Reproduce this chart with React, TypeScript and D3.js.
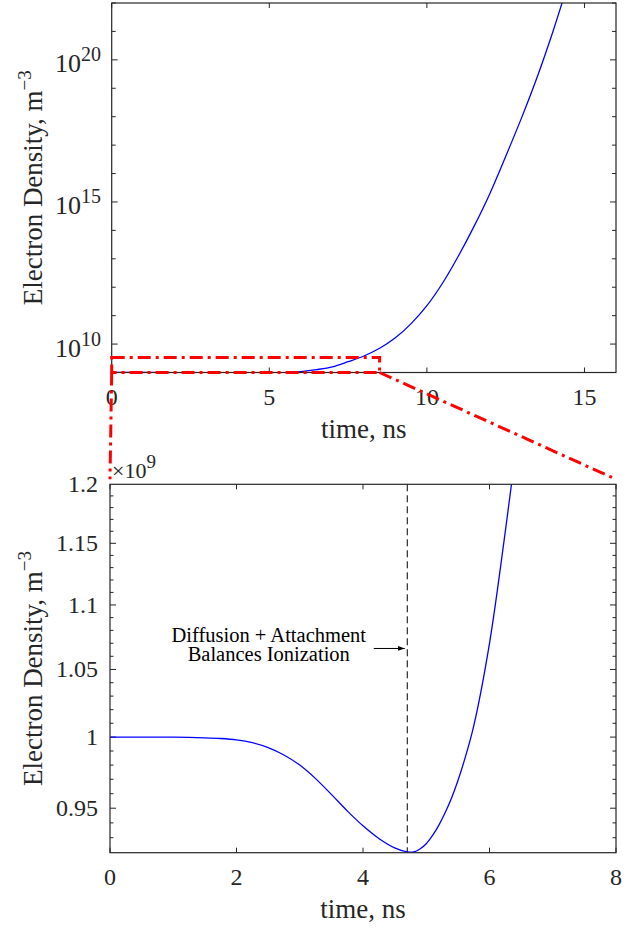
import React from 'react'
import * as d3 from 'd3'

// top panel: full run, log scale
const topTime = [0, 1, 2, 3, 4, 5, 5.5, 6, 6.5, 7, 7.5, 8, 8.5, 9, 9.5, 10, 10.5, 11, 11.5, 12, 12.5, 13, 13.5, 14, 14.4]
const topDensity = [1e9, 1e9, 0.998e9, 0.98e9, 0.938e9, 0.926e9, 0.969e9, 1.07e9, 1.26e9, 1.58e9, 2.4e9, 3.8e9, 7.1e9,
  1.66e10, 5.25e10, 2.24e11, 1.41e12, 1.26e13, 1.41e14, 2.0e15, 4.0e16, 8.9e17, 2.5e19, 1.0e21, 2.5e22]

// bottom panel: zoom on the first 8 ns
const botTime = [0, 0.5, 1, 1.5, 1.75, 2, 2.25, 2.5, 2.75, 3, 3.25, 3.5, 3.75, 4, 4.25, 4.5, 4.7, 4.8, 4.9, 5.0,
  5.1, 5.2, 5.3, 5.4, 5.5, 5.6, 5.75, 6.0, 6.25, 6.45]
const botDensity = [1.0, 1.0, 1.0, 0.9995, 0.999, 0.998, 0.996, 0.9925, 0.9872, 0.98, 0.9705, 0.9595, 0.9482, 0.938,
  0.9295, 0.9232, 0.9205, 0.9205, 0.9225, 0.926, 0.9315, 0.9385, 0.947, 0.957, 0.969, 0.983, 1.008, 1.07, 1.16, 1.245]

const topXTicks = [0, 5, 10, 15]
const topYLabelExp = [10, 15, 20]
const botXTicks = [0, 2, 4, 6, 8]
const botYTicks = [0.95, 1, 1.05, 1.1, 1.15, 1.2]

const balanceTime = 4.7
const zoomBox = {t0: 0, t1: 8.5, n0: 1e9, n1: 3.4e9}

const FONT = '"Liberation Serif", "Times New Roman", serif'
const AX = '#262626'

export default function App() {
  // panel geometry
  const top = {l: 111.7, r: 616, t: 3, b: 372.5}
  const bot = {l: 110, r: 616, t: 484.3, b: 852.7}

  const xTop = d3.scaleLinear().domain([0, 16]).range([top.l, top.r])
  const yTop = d3.scaleLog().domain([1e9, 1e22]).range([top.b, top.t])
  const xBot = d3.scaleLinear().domain([0, 8]).range([bot.l, bot.r])
  const yBot = d3.scaleLog().domain([0.92, 1.2]).range([bot.b, bot.t])

  const topLine = d3.line<number>()
    .x((d, i) => xTop(topTime[i]))
    .y(d => yTop(d))
    .curve(d3.curveCatmullRom.alpha(0.5))
  const botLine = d3.line<number>()
    .x((d, i) => xBot(botTime[i]))
    .y(d => yBot(d))
    .curve(d3.curveCatmullRom.alpha(0.5))

  const decades = d3.range(9, 23)
  const botMinor = d3.range(93, 120).map(v => v / 100)

  const arrowY = yBot(1.066)
  const redDash = '13,5,3,5'

  return (
    <svg width={632} height={931} style={{position: 'absolute', left: 0, top: 0, background: '#fff'}}
      fontFamily={FONT}>
      <defs>
        <clipPath id="clipTop"><rect x={top.l} y={top.t} width={top.r - top.l} height={top.b - top.t}/></clipPath>
        <clipPath id="clipBot"><rect x={bot.l} y={bot.t} width={bot.r - bot.l} height={bot.b - bot.t}/></clipPath>
        <marker id="arr" viewBox="0 0 10 10" refX="10" refY="5" markerWidth="7" markerHeight="7" orient="auto">
          <path d="M0,1.5 L10,5 L0,8.5 z" fill="#000"/>
        </marker>
      </defs>

      {/* ---------- top panel ---------- */}
      <g>
        {decades.map(e => {
          const y = yTop(Math.pow(10, e))
          const len = topYLabelExp.includes(e) ? 6 : 4
          return (
            <g key={'dt' + e} stroke={AX} strokeWidth={1}>
              <line x1={top.l} x2={top.l + len} y1={y} y2={y}/>
              <line x1={top.r} x2={top.r - len} y1={y} y2={y}/>
            </g>
          )
        })}
        {topXTicks.map(t => (
          <g key={'xt' + t} stroke={AX} strokeWidth={1}>
            <line x1={xTop(t)} x2={xTop(t)} y1={top.b} y2={top.b - 5}/>
            <line x1={xTop(t)} x2={xTop(t)} y1={top.t} y2={top.t + 5}/>
          </g>
        ))}
        <path d={topLine(topDensity) || ''} fill="none" stroke="#0000ff" strokeWidth={1.3} clipPath="url(#clipTop)"/>
        <rect x={top.l} y={top.t} width={top.r - top.l} height={top.b - top.t} fill="none" stroke={AX} strokeWidth={1.2}/>

        {topXTicks.map(t => (
          <text key={'xl' + t} x={xTop(t)} y={405} textAnchor="middle" fontSize={24} fill={AX}>{t}</text>
        ))}
        {topYLabelExp.map(e => (
          <text key={'yl' + e} x={101} y={yTop(Math.pow(10, e)) + 12.5} textAnchor="end" fontSize={26} fill={AX}>
            10<tspan dy={-11} fontSize={20}>{e}</tspan>
          </text>
        ))}
        <text x={(top.l + top.r) / 2} y={438} textAnchor="middle" fontSize={27} fill={AX}>time, ns</text>
        <text transform={`translate(42,${(top.t + top.b) / 2}) rotate(-90)`} textAnchor="middle" fontSize={27} fill={AX}>
          Electron Density, m<tspan dy={-11} fontSize={19}>−3</tspan>
        </text>
      </g>

      {/* ---------- bottom panel ---------- */}
      <g>
        {botMinor.map(v => {
          const y = yBot(v)
          const len = botYTicks.some(b => Math.abs(b - v) < 1e-6) ? 6 : 3.5
          return (
            <g key={'mb' + v} stroke={AX} strokeWidth={1}>
              <line x1={bot.l} x2={bot.l + len} y1={y} y2={y}/>
              <line x1={bot.r} x2={bot.r - len} y1={y} y2={y}/>
            </g>
          )
        })}
        {botXTicks.map(t => (
          <g key={'bxt' + t} stroke={AX} strokeWidth={1}>
            <line x1={xBot(t)} x2={xBot(t)} y1={bot.b} y2={bot.b - 5}/>
            <line x1={xBot(t)} x2={xBot(t)} y1={bot.t} y2={bot.t + 5}/>
          </g>
        ))}
        <line x1={xBot(balanceTime)} x2={xBot(balanceTime)} y1={bot.t} y2={bot.b}
          stroke="#000" strokeWidth={1} strokeDasharray="7,4"/>
        <path d={botLine(botDensity) || ''} fill="none" stroke="#0000ff" strokeWidth={1.3} clipPath="url(#clipBot)"/>
        <rect x={bot.l} y={bot.t} width={bot.r - bot.l} height={bot.b - bot.t} fill="none" stroke={AX} strokeWidth={1.2}/>

        {botXTicks.map(t => (
          <text key={'bxl' + t} x={xBot(t)} y={885} textAnchor="middle" fontSize={24} fill={AX}>{t}</text>
        ))}
        {botYTicks.map(v => (
          <text key={'byl' + v} x={98} y={yBot(v) + 8} textAnchor="end" fontSize={24} fill={AX}>{v}</text>
        ))}
        <text x={112} y={478} fontSize={22} fill={AX}>
          ×10<tspan dy={-10} fontSize={19}>9</tspan>
        </text>
        <text x={(bot.l + bot.r) / 2} y={918} textAnchor="middle" fontSize={27} fill={AX}>time, ns</text>
        <text transform={`translate(42,${(bot.t + bot.b) / 2}) rotate(-90)`} textAnchor="middle" fontSize={27} fill={AX}>
          Electron Density, m<tspan dy={-11} fontSize={19}>−3</tspan>
        </text>

        {/* annotation */}
        <text x={xBot(2.51)} y={arrowY - 6.5} textAnchor="middle" fontSize={20.5} fill="#000">Diffusion + Attachment</text>
        <text x={xBot(2.51)} y={arrowY + 12.5} textAnchor="middle" fontSize={20.5} fill="#000">Balances Ionization</text>
        <line x1={xBot(4.17)} x2={xBot(4.66)} y1={arrowY} y2={arrowY} stroke="#000" strokeWidth={1} markerEnd="url(#arr)"/>
      </g>

      {/* ---------- zoom indicator ---------- */}
      <g fill="none" stroke="#ff0000" strokeWidth={3} strokeDasharray={redDash}>
        <rect x={xTop(zoomBox.t0)} y={yTop(zoomBox.n1)} width={xTop(zoomBox.t1) - xTop(zoomBox.t0)}
          height={yTop(zoomBox.n0) - yTop(zoomBox.n1)}/>
        <line x1={xTop(zoomBox.t0)} y1={yTop(zoomBox.n0)} x2={xBot(0)} y2={bot.t - 5}/>
        <line x1={xTop(zoomBox.t1)} y1={yTop(zoomBox.n0)} x2={xBot(8)} y2={bot.t - 5}/>
      </g>
    </svg>
  )
}
